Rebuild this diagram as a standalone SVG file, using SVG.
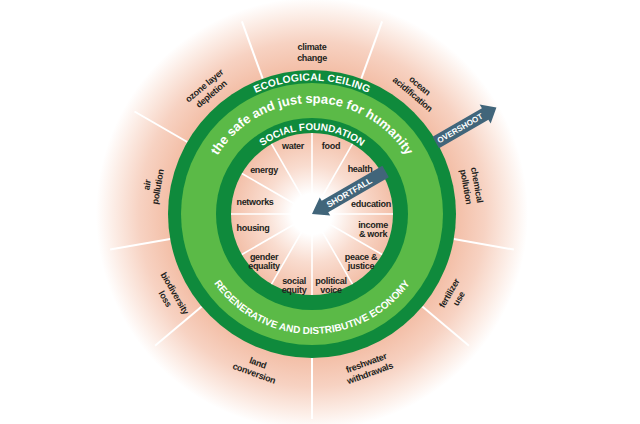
<svg xmlns="http://www.w3.org/2000/svg" xmlns:xlink="http://www.w3.org/1999/xlink" width="640" height="424" viewBox="0 0 640 424">
<defs>
<radialGradient id="outerG" gradientUnits="userSpaceOnUse" cx="312" cy="214" r="216">
<stop offset="0.66" stop-color="#f3bea6"/>
<stop offset="0.8" stop-color="#f7d2c2"/>
<stop offset="0.92" stop-color="#fcede6"/>
<stop offset="1" stop-color="#ffffff"/>
</radialGradient>
<radialGradient id="innerG" gradientUnits="userSpaceOnUse" cx="312" cy="214" r="81">
<stop offset="0" stop-color="#ffffff"/>
<stop offset="0.25" stop-color="#ffffff"/>
<stop offset="0.6" stop-color="#f9dccf"/>
<stop offset="1" stop-color="#f3c0a9"/>
</radialGradient>
<path id="pEco" d="M178.5,214 A133.5,133.5 0 0 1 445.5,214"/>
<path id="pSafe" d="M201,214 A111,111 0 0 1 423,214"/>
<path id="pSoc" d="M228,214 A84,84 0 0 1 396,214"/>
<path id="pReg" d="M192,214 A120,120 0 0 0 432,214"/>
</defs>
<style>
text{font-family:"Liberation Sans",Arial,sans-serif;font-weight:bold}
.lbl{font-size:9px;fill:#231f20;text-anchor:middle;letter-spacing:-0.3px}
.ring{font-size:10px;fill:#ffffff;text-anchor:middle}
.div{stroke:#ffffff;stroke-width:2}
.divi{stroke:#ffffff;stroke-width:1.6}
.arrow{fill:#41657a}
.atxt{fill:#ffffff;text-anchor:middle;dominant-baseline:central}
</style>
<rect width="640" height="424" fill="#ffffff"/>
<g id="ecological-zone">
<circle cx="312" cy="214" r="216" fill="url(#outerG)"/>
<g id="outer-dividers">
<line class="div" x1="361.3" y1="78.7" x2="382.1" y2="21.4"/>
<line class="div" x1="436.7" y1="142" x2="489.5" y2="111.5"/>
<line class="div" x1="453.8" y1="239" x2="513.9" y2="249.6"/>
<line class="div" x1="422.3" y1="306.6" x2="469" y2="345.8"/>
<line class="div" x1="312" y1="358" x2="312" y2="419"/>
<line class="div" x1="201.7" y1="306.6" x2="155" y2="345.8"/>
<line class="div" x1="170.2" y1="239" x2="110.1" y2="249.6"/>
<line class="div" x1="187.3" y1="142" x2="134.5" y2="111.5"/>
<line class="div" x1="262.7" y1="78.7" x2="241.9" y2="21.4"/>
</g>
</g>
<g id="rings">
<circle cx="312" cy="214" r="144" fill="#0f8a3c"/>
<circle cx="312" cy="214" r="131" fill="#5bba47"/>
<circle cx="312" cy="214" r="96" fill="#0f8a3c"/>
<circle cx="312" cy="214" r="81" fill="url(#innerG)"/>
</g>
<g id="inner-dividers">
<line class="divi" x1="312" y1="214" x2="312" y2="133"/>
<line class="divi" x1="312" y1="214" x2="352.5" y2="143.9"/>
<line class="divi" x1="312" y1="214" x2="382.1" y2="173.5"/>
<line class="divi" x1="312" y1="214" x2="393" y2="214"/>
<line class="divi" x1="312" y1="214" x2="382.1" y2="254.5"/>
<line class="divi" x1="312" y1="214" x2="352.5" y2="284.1"/>
<line class="divi" x1="312" y1="214" x2="312" y2="295"/>
<line class="divi" x1="312" y1="214" x2="271.5" y2="284.1"/>
<line class="divi" x1="312" y1="214" x2="241.9" y2="254.5"/>
<line class="divi" x1="312" y1="214" x2="231" y2="214"/>
<line class="divi" x1="312" y1="214" x2="241.9" y2="173.5"/>
<line class="divi" x1="312" y1="214" x2="271.5" y2="143.9"/>
</g>
<g id="ring-titles">
<text id="ecological-ceiling" class="ring" style="font-size:10.3px;letter-spacing:0.2px"><textPath xlink:href="#pEco" href="#pEco" startOffset="50%">ECOLOGICAL CEILING</textPath></text>
<text id="safe-just-space" class="ring" style="font-size:13px"><textPath xlink:href="#pSafe" href="#pSafe" startOffset="50%">the safe and just space for humanity</textPath></text>
<text id="social-foundation" class="ring"><textPath xlink:href="#pSoc" href="#pSoc" startOffset="50%">SOCIAL FOUNDATION</textPath></text>
<text id="regenerative-economy" class="ring"><textPath xlink:href="#pReg" href="#pReg" startOffset="50%">REGENERATIVE AND DISTRIBUTIVE ECONOMY</textPath></text>
</g>
<g id="ecological-labels">
<g id="climate-change"><text class="lbl" transform="translate(312,51)"><tspan x="0" y="-1.5">climate</tspan><tspan x="0" y="9.5">change</tspan></text></g>
<g id="ocean-acidification"><text class="lbl" transform="translate(416.8,89.1) rotate(40)"><tspan x="0" y="-1.5">ocean</tspan><tspan x="0" y="9.5">acidification</tspan></text></g>
<g id="chemical-pollution"><text class="lbl" transform="translate(472.5,185.7) rotate(80)"><tspan x="0" y="-1.5">chemical</tspan><tspan x="0" y="9.5">pollution</tspan></text></g>
<g id="fertilizer-use"><text class="lbl" transform="translate(453.2,295.5) rotate(-60)"><tspan x="0" y="-1.5">fertilizer</tspan><tspan x="0" y="9.5">use</tspan></text></g>
<g id="freshwater-withdrawals"><text class="lbl" transform="translate(367.7,367.2) rotate(-20)"><tspan x="0" y="-1.5">freshwater</tspan><tspan x="0" y="9.5">withdrawals</tspan></text></g>
<g id="land-conversion"><text class="lbl" transform="translate(256.3,367.2) rotate(20)"><tspan x="0" y="-1.5">land</tspan><tspan x="0" y="9.5">conversion</tspan></text></g>
<g id="biodiversity-loss"><text class="lbl" transform="translate(170.8,295.5) rotate(60)"><tspan x="0" y="-1.5">biodiversity</tspan><tspan x="0" y="9.5">loss</tspan></text></g>
<g id="air-pollution"><text class="lbl" transform="translate(151.5,185.7) rotate(-80)"><tspan x="0" y="-1.5">air</tspan><tspan x="0" y="9.5">pollution</tspan></text></g>
<g id="ozone-depletion"><text class="lbl" transform="translate(207.2,89.1) rotate(-40)"><tspan x="0" y="-1.5">ozone layer</tspan><tspan x="0" y="9.5">depletion</tspan></text></g>
</g>
<g id="social-labels">
<g id="water"><text class="lbl" x="293" y="149">water</text></g>
<g id="food"><text class="lbl" x="331" y="149">food</text></g>
<g id="energy"><text class="lbl" x="264" y="173">energy</text></g>
<g id="health"><text class="lbl" x="360" y="172">health</text></g>
<g id="networks"><text class="lbl" x="255" y="205">networks</text></g>
<g id="education"><text class="lbl" x="371" y="207">education</text></g>
<g id="housing"><text class="lbl" x="253" y="231">housing</text></g>
<g id="income-work"><text class="lbl" x="373" y="228">income<tspan x="373" y="237">&amp; work</tspan></text></g>
<g id="gender-equality"><text class="lbl" x="264" y="260">gender<tspan x="264" y="269">equality</tspan></text></g>
<g id="peace-justice"><text class="lbl" x="361" y="260">peace &amp;<tspan x="361" y="269">justice</tspan></text></g>
<g id="social-equity"><text class="lbl" x="294" y="284">social<tspan x="294" y="293">equity</tspan></text></g>
<g id="political-voice"><text class="lbl" x="331" y="284">political<tspan x="331" y="293">voice</tspan></text></g>
</g>
<g id="connectors">
<g id="overshoot" transform="translate(435.8,142.5) rotate(-30)">
<path class="arrow" d="M0,-6.5 L57,-6.5 L57,-11 L70,0 L57,11 L57,6.5 L0,6.5 Z"/>
<text class="atxt" x="28" y="0" style="font-size:8px">OVERSHOOT</text>
</g>
<g id="shortfall" transform="translate(385.6,171.5) rotate(150)">
<path class="arrow" d="M0,-6.5 L70,-6.5 L70,-10.5 L85,0 L70,10.5 L70,6.5 L0,6.5 Z"/>
<text class="atxt" transform="translate(42,0) rotate(180)" style="font-size:8.5px">SHORTFALL</text>
</g>
</g>
</svg>
